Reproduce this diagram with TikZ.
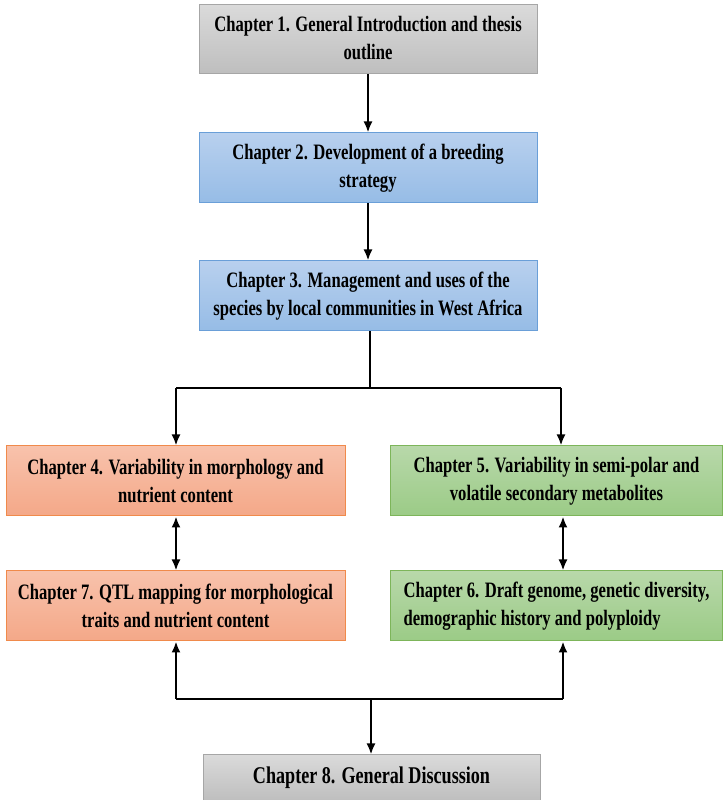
\documentclass[tikz,border=0pt]{standalone}
\usepackage{fontspec}
\setmainfont{Liberation Serif}[FakeStretch=0.755]
\usetikzlibrary{arrows.meta}
\definecolor{grayT}{HTML}{DADADA}
\definecolor{grayB}{HTML}{BEBEBE}
\definecolor{grayD}{HTML}{A6A6A6}
\definecolor{blueT}{HTML}{B8D0EE}
\definecolor{blueB}{HTML}{96BCE6}
\definecolor{blueD}{HTML}{6A9FD8}
\definecolor{oraT}{HTML}{F8C2AC}
\definecolor{oraB}{HTML}{F4A888}
\definecolor{oraD}{HTML}{F08A4B}
\definecolor{grnT}{HTML}{B8D8AA}
\definecolor{grnB}{HTML}{9BCB86}
\definecolor{grnD}{HTML}{7DB55A}
\tikzset{
  x=1pt, y=1pt,
  chbox/.style={rectangle, minimum height=70pt, inner sep=0pt, align=center,
    line width=1pt, font=\fontsize{22}{28}\selectfont\bfseries},
  graybox/.style={chbox, draw=grayD, top color=grayT, bottom color=grayB},
  bluebox/.style={chbox, draw=blueD, top color=blueT, bottom color=blueB},
  orabox/.style={chbox, draw=oraD, top color=oraT, bottom color=oraB},
  grnbox/.style={chbox, draw=grnD, top color=grnT, bottom color=grnB},
  conn/.style={line width=2pt, black},
  arr/.style={conn, -{Latex[length=11pt,width=9pt]}},
  darr/.style={conn, {Latex[length=11pt,width=9pt]}-{Latex[length=11pt,width=9pt]}},
}
\begin{document}
\begin{tikzpicture}
\useasboundingbox (0,0) rectangle (723,800);
\clip (0,0) rectangle (723,800);
\fill[white] (0,0) rectangle (723,800);
\node[graybox, minimum width=338pt, minimum height=69pt] (c1) at (368,760.5) {\raisebox{-2pt}{\begin{tabular}{@{}c@{}}Chapter 1. General Introduction and thesis\\outline\end{tabular}}};
\node[bluebox, minimum width=338pt] (c2) at (368,632) {Chapter 2. Development of a breeding\\strategy};
\node[bluebox, minimum width=338pt] (c3) at (368,504) {Chapter 3. Management and uses of the\\species by local communities in West Africa};
\node[orabox, minimum width=339pt] (c4) at (175.5,319) {Chapter 4. Variability in morphology and\\nutrient content};
\node[grnbox, minimum width=332pt] (c5) at (556.5,319) {Chapter 5. Variability in semi-polar and\\volatile secondary metabolites};
\node[orabox, minimum width=339pt] (c7) at (175.5,194) {Chapter 7. QTL mapping for morphological\\traits and nutrient content};
\node[grnbox, minimum width=332pt, align=left] (c6) at (556.5,194) {Chapter 6. Draft genome, genetic diversity,\\demographic history and polyploidy};
\node[graybox, minimum width=337pt, minimum height=46pt, font=\fontsize{24}{28}\selectfont\bfseries] (c8) at (371.5,22) {Chapter 8. General Discussion};
\coordinate (jt) at (370,412);
\coordinate (jl) at (176,412);
\coordinate (jr) at (561,412);
\coordinate (bl) at (176,101);
\coordinate (bm) at (371,101);
\coordinate (br) at (563,101);
\draw[arr] (c1.south) -- (c2.north);
\draw[arr] (c2.south) -- (c3.north);
\draw[conn] (jt |- c3.south) -- (jt);
\draw[conn, line width=2.5pt] (jl) -- (jr);
\draw[arr] (jl) -- (jl |- c4.north);
\draw[arr] (jr) -- (jr |- c5.north);
\draw[darr] (jl |- c4.south) -- (jl |- c7.north);
\draw[darr] (br |- c5.south) -- (br |- c6.north);
\draw[conn, line width=2.5pt] (bl) -- (br);
\draw[arr] (bl) -- (bl |- c7.south);
\draw[arr] (br) -- (br |- c6.south);
\draw[arr] (bm) -- (bm |- c8.north);
\end{tikzpicture}
\end{document}
